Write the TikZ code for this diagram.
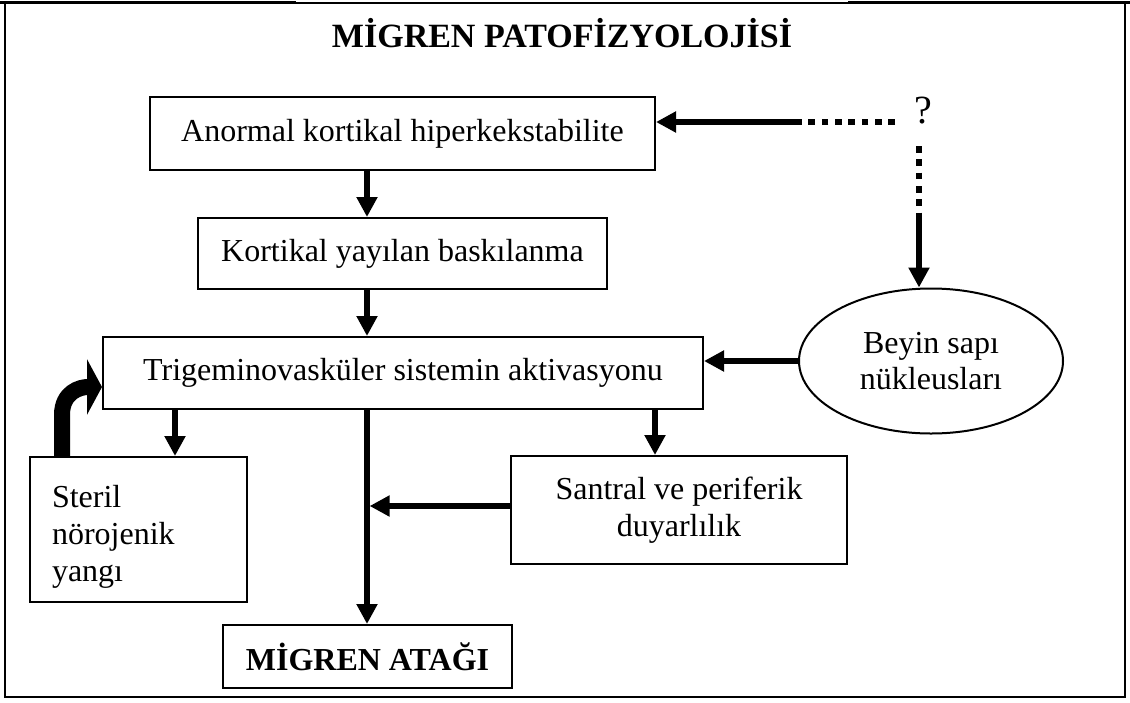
\documentclass[tikz,border=0pt]{standalone}
\usepackage{fontspec}
\setmainfont{Liberation Serif}
\usetikzlibrary{arrows.meta,shapes.geometric,calc}
\begin{document}
\begin{tikzpicture}[x=1pt,y=-1pt,
  box/.style={draw,line width=2pt,rectangle,inner sep=0pt,font=\fontsize{32}{37}\selectfont,align=center},
  ellbox/.style={draw,line width=2pt,ellipse,inner sep=0pt,font=\fontsize{32}{36}\selectfont,align=center},
  arr/.style={line width=5.3pt,-{Triangle[length=20pt,width=20pt]}},
  dots/.style={line width=5.6pt,dash pattern=on 6.67pt off 6.67pt},
  blockarrow/.style={line width=16pt,-{Triangle[length=15pt,width=55pt]}}]
\useasboundingbox (0,0) rectangle (1130,702);
\fill[white] (0,0) rectangle (1130,702);
% frame
\draw[line width=2.2pt] (5,3) rectangle (1125,697);
\draw[line width=3.2pt] (0,2.5) -- (296,2.5) (848,2.5) -- (1130,2.5);
% title
\node[font=\bfseries\fontsize{34}{39}\selectfont,anchor=base,inner sep=0pt] (title) at (562,47) {MİGREN PATOFİZYOLOJİSİ};
% boxes
\node[box,minimum width=505pt,minimum height=73pt] (b1) at (402.5,133.5) {Anormal kortikal hiperkekstabilite};
\node[box,minimum width=409pt,minimum height=71pt] (b2) at (402.5,253.5) {Kortikal yayılan baskılanma};
\node[box,minimum width=600pt,minimum height=72pt] (b3) at (403,373) {Trigeminovasküler sistemin aktivasyonu};
\node[box,minimum width=217pt,minimum height=145pt,text width=173pt,align=left] (ster) at (138.5,529.5) {\rule{0pt}{36pt}Steril\\nörojenik\\yangı};
\node[box,minimum width=336pt,minimum height=108pt] (san) at (679,510) {Santral ve periferik\\duyarlılık};
\node[box,minimum width=289pt,minimum height=63pt,font=\bfseries\fontsize{32}{37}\selectfont] (mig) at (367.5,656.5) {MİGREN ATAĞI};
\node[ellbox,minimum width=264pt,minimum height=145pt] (ell) at (931,361) {Beyin sapı\\nükleusları};
\node[font=\fontsize{40}{46}\selectfont,anchor=base,inner sep=0pt] (q) at (923,123) {?};
% helper coordinates
\coordinate (colx) at (367,0);
\coordinate (cs) at (175,0);
\coordinate (cr) at (655,0);
\coordinate (rowy) at (0,506);
\coordinate (hq) at (895,122);
\coordinate (hd) at (808.33,122);
\coordinate (hs) at (801.7,122);
\coordinate (vq) at (919,146);
\coordinate (vd) at (919,206);
\coordinate (vs) at (919,212.7);
\coordinate (cv) at (62,0);
\coordinate (cb) at (62,415);
\coordinate (cc1) at (62,392);
\coordinate (cc2) at (80,387);
\coordinate (ctip) at ($(b3.west)+(0,14)$);
% connectors
\draw[arr] (b1.south -| colx) -- (b2.north -| colx);
\draw[arr] (b2.south -| colx) -- (b3.north -| colx);
\draw[arr] (b3.south -| colx) -- (mig.north -| colx);
\draw[arr] (b3.south -| cs) -- (ster.north -| cs);
\draw[arr] (b3.south -| cr) -- (san.north -| cr);
\draw[arr] (san.west |- rowy) -- ($(colx |- rowy)+(2.6,0)$);
\draw[arr] (ell.west) -- (ell.west -| b3.east);
\draw[dots] (hq) -- (hd);
\draw[arr] (hs) -- (hs -| b1.east);
\draw[dots] (vq) -- (vd);
\draw[arr] (vs) -- (vs |- ell.north);
\draw[blockarrow] (ster.north -| cv) -- (cb) .. controls (cc1) and (cc2) .. (ctip);
\end{tikzpicture}
\end{document}
